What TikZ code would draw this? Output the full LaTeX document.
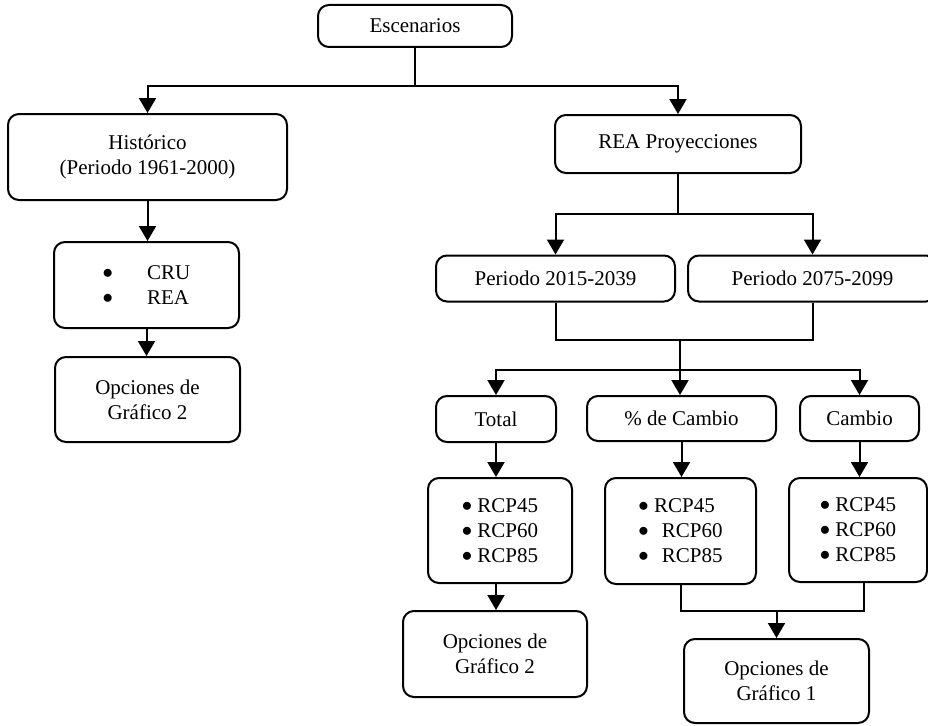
\documentclass[tikz,border=0pt]{standalone}
\usepackage{fontspec}
\setmainfont{Liberation Serif}
\usetikzlibrary{arrows.meta}

\newcommand{\pto}{\raisebox{1pt}{$\bullet$}}

\begin{document}
\begin{tikzpicture}[x=1pt,y=-1pt,
  caja/.style={draw, line width=2pt, rounded corners=11pt, align=center,
    inner sep=0pt, font=\fontsize{21}{25}\selectfont},
  flecha/.style={-{Triangle[width=17pt,length=15pt]}, line width=2pt},
  linea/.style={line width=2pt}]
\clip (0,0) rectangle (928,725);

% rama izquierda
\node[caja, minimum width=194pt, minimum height=42pt] (esc) at (415,26) {Escenarios};
\node[caja, minimum width=279pt, minimum height=86pt] (hist) at (147.5,157) {Histórico\\(Periodo 1961-2000)};
\node[caja, minimum width=185pt, minimum height=86pt, align=left] (datos) at (146.5,285)
  {\pto\hspace{34pt}CRU\\\pto\hspace{34pt}REA};
\node[caja, minimum width=185pt, minimum height=85pt] (opcA) at (147.5,399.5) {Opciones de\\Gráfico 2};

% rama derecha
\node[caja, minimum width=246pt, minimum height=58pt] (rea) at (678,144) {REA Proyecciones};
\node[caja, minimum width=239pt, minimum height=46pt] (per1) at (555.5,278.5) {Periodo 2015-2039};
\node[caja, minimum width=249pt, minimum height=46pt] (per2) at (812.5,278.5) {Periodo 2075-2099};
\node[caja, minimum width=120pt, minimum height=46pt] (total) at (496,419) {Total};
\node[caja, minimum width=189pt, minimum height=45pt] (pcam) at (681.5,418.5) {\% de Cambio};
\node[caja, minimum width=119pt, minimum height=45pt] (cam) at (859.5,418.5) {Cambio};
\node[caja, minimum width=144pt, minimum height=105pt, align=left] (rcpA) at (500,530.5)
  {\pto\ RCP45\\\pto\ RCP60\\\pto\ RCP85};
\node[caja, minimum width=151pt, minimum height=106pt, align=left] (rcpB) at (680.5,531)
  {\pto\ RCP45\\\pto\hspace{13pt}RCP60\\\pto\hspace{13pt}RCP85};
\node[caja, minimum width=138pt, minimum height=104pt, align=left] (rcpC) at (858,530)
  {\pto\ RCP45\\\pto\ RCP60\\\pto\ RCP85};
\node[caja, minimum width=184pt, minimum height=86pt] (opcB) at (495,654) {Opciones de\\Gráfico 2};
\node[caja, minimum width=185pt, minimum height=84pt] (opcC) at (776.5,681) {Opciones de\\Gráfico 1};

% conectores
\draw[linea] (esc.south) -- (415,86) coordinate (s1);
\draw[flecha] (s1) -| (hist.north);
\draw[flecha] (s1) -| (rea.north);
\draw[flecha] (hist.south) -- (hist.south |- datos.north);
\draw[flecha] (datos.south) -- (datos.south |- opcA.north);

\draw[linea] (rea.south) -- (678,214) coordinate (s2);
\draw[flecha] (s2) -| (per1.north);
\draw[flecha] (s2) -| (per2.north);
\draw[linea] (per1.south) |- (680,340) coordinate (s3) -| (per2.south);
\draw[linea] (s3) -- (680,370) coordinate (s4);
\draw[flecha] (s4) -| (total.north);
\draw[flecha] (s4) -- (s4 |- pcam.north);
\draw[flecha] (s4) -| (cam.north);

\draw[flecha] (total.south) -- (total.south |- rcpA.north);
\draw[flecha] (pcam.south) -- (pcam.south |- rcpB.north);
\draw[flecha] (cam.south) -- (cam.south |- rcpC.north);
\draw[flecha] (total.south |- rcpA.south) -- (total.south |- opcB.north);
\draw[linea] (rcpB.south) |- (776.5,611) coordinate (s5) -| ([xshift=6pt]rcpC.south);
\draw[flecha] (s5) -- (opcC.north);
\end{tikzpicture}
\end{document}
